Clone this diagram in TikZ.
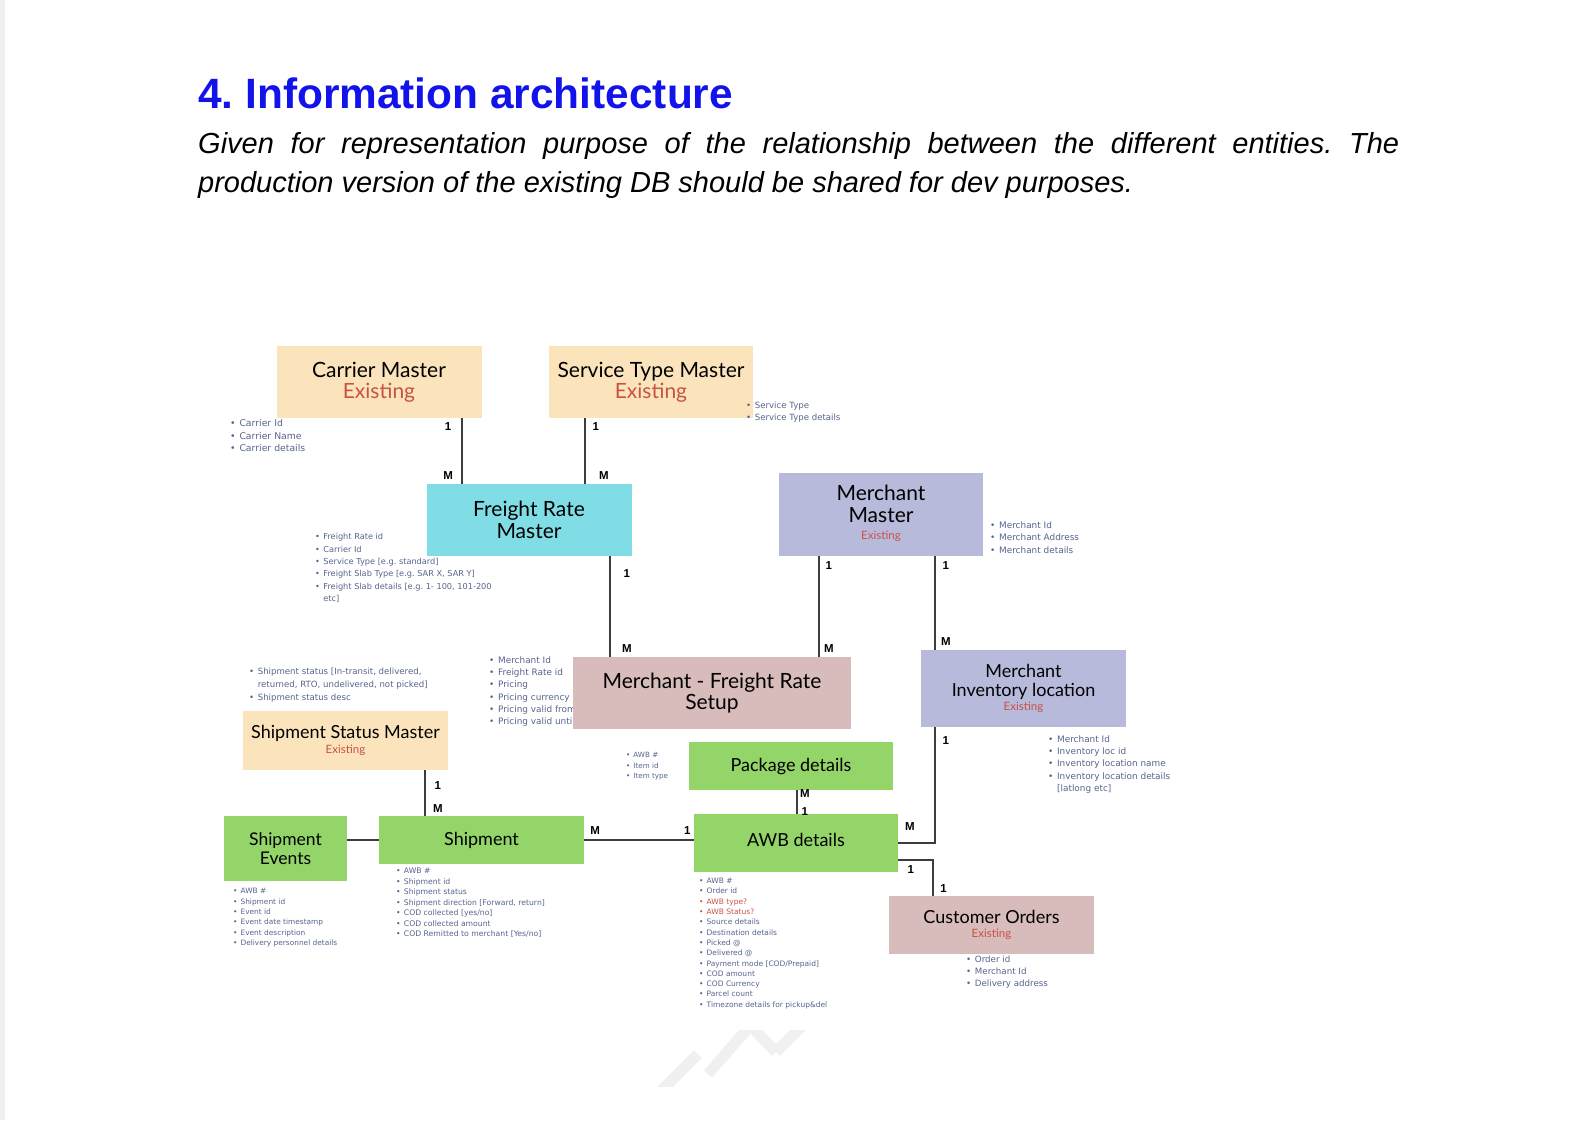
\documentclass[tikz,border=0pt]{standalone}
\usepackage{fontspec}
\setmainfont{Liberation Sans}
\newfontfamily\boxfont{Lato}
\newfontfamily\notefont{DejaVu Sans}
\usetikzlibrary{positioning}
\frenchspacing
\definecolor{TitleBlue}{RGB}{18,18,235}
\definecolor{ExistRed}{RGB}{200,82,70}
\definecolor{NoteGrey}{RGB}{84,100,140}
\definecolor{LineGrey}{RGB}{60,60,60}
\definecolor{SandFill}{RGB}{251,228,188}
\definecolor{AquaFill}{RGB}{129,221,229}
\definecolor{LilacFill}{RGB}{184,186,220}
\definecolor{RoseFill}{RGB}{216,188,188}
\definecolor{LeafFill}{RGB}{147,213,105}
\newcommand{\itm}{\makebox[1em][l]{\textbullet}}
\newcommand{\cnt}{\hspace*{1em}}
\newcommand{\exist}{{\fontsize{11.5}{12}\selectfont\color{ExistRed}Existing}}
\newcommand{\nsize}[2]{\notefont\fontsize{#1}{#2}\selectfont}

\begin{document}
\begin{tikzpicture}[
  x=1pt,y=-1pt,
  entity/.style={minimum width=205pt,minimum height=72pt,inner sep=0pt,align=center,font=\boxfont\fontsize{21}{21.5}\selectfont},
  small entity/.style={entity,font=\boxfont\fontsize{18}{19.3}\selectfont},
  note/.style={anchor=north west,inner sep=0pt,align=left,text=NoteGrey},
  card/.style={font=\bfseries\fontsize{11.5}{12}\selectfont,inner sep=1.5pt},
  link/.style={draw=LineGrey,line width=1.3pt},
  watermark/.style={draw=gray!12,line width=11pt}]
\useasboundingbox (0,0) rectangle (1590,1120);
\fill[gray!12] (0,0) rectangle (5,1120);
\node[anchor=base west,inner sep=0pt,text=TitleBlue,font=\bfseries\fontsize{42.4}{50}\selectfont] (title) at (198,108) {4. Information architecture};
\node[anchor=north west,inner sep=0pt,text width=1201pt,align=justify,font=\itshape\fontsize{29}{39.6}\selectfont] (intro) at (198,132)
  {Given for representation purpose of the relationship between the different entities. The\linebreak production version of the existing DB should be shared for dev purposes.};

\begin{scope}
\clip (640,1030) rectangle (830,1086);
\draw[watermark] (662,1090) -- (698,1054);
\draw[watermark] (708,1074) -- (750,1026);
\draw[watermark] (745,1020) -- (776,1052);
\draw[watermark] (776,1052) -- (812,1016);
\end{scope}

\coordinate (cx1) at (462,0);
\coordinate (cx2) at (585,0);
\coordinate (cx3) at (610,0);
\coordinate (cx4) at (819,0);
\coordinate (cx5) at (935,0);
\coordinate (cx6) at (797,0);
\coordinate (cx7) at (425,0);
\coordinate (cx8) at (933,0);

\node[note,font=\nsize{9.3}{12.6}] (carrierinfo) at (230,419.5)
  {\itm Carrier Id\\\itm Carrier Name\\\itm Carrier details};
\node[note,font=\nsize{8.2}{12.3}] (freightinfo) at (315,533.5)
  {\itm Freight Rate id\\\itm Carrier Id\\\itm Service Type [e.g. standard]\\\itm Freight Slab Type [e.g. SAR X, SAR Y]\\\itm Freight Slab details [e.g. 1- 100, 101-200\\\cnt etc]};
\node[note,font=\nsize{8.9}{12.5}] (merchantinfo) at (990,521.5)
  {\itm Merchant Id\\\itm Merchant Address\\\itm Merchant details};
\node[note,font=\nsize{8.6}{13.2}] (statusinfo) at (249,667.5)
  {\itm Shipment status [In-transit, delivered,\\\cnt returned, RTO, undelivered, not picked]\\\itm Shipment status desc};
\node[note,font=\nsize{8.9}{12.2}] (setupinfo) at (489,656.5)
  {\itm Merchant Id\\\itm Freight Rate id\\\itm Pricing\\\itm Pricing currency\\\itm Pricing valid from\\\itm Pricing valid until};
\node[note,font=\nsize{8.9}{12.2}] (inventoryinfo) at (1048,735.5)
  {\itm Merchant Id\\\itm Inventory loc id\\\itm Inventory location name\\\itm Inventory location details\\\cnt [latlong etc]};
\node[note,font=\nsize{7.2}{10.6}] (packageinfo) at (626,752)
  {\itm AWB \#\\\itm Item id\\\itm Item type};
\node[note,font=\nsize{7.4}{10.4}] (eventsinfo) at (233,888)
  {\itm AWB \#\\\itm Shipment id\\\itm Event id\\\itm Event date timestamp\\\itm Event description\\\itm Delivery personnel details};
\node[note,font=\nsize{7.7}{10.5}] (shipmentinfo) at (396,868)
  {\itm AWB \#\\\itm Shipment id\\\itm Shipment status\\\itm Shipment direction [Forward, return]\\\itm COD collected [yes/no]\\\itm COD collected amount\\\itm COD Remitted to merchant [Yes/no]};
\node[note,font=\nsize{7.5}{10.3}] (awbinfo) at (699,878)
  {\itm AWB \#\\\itm Order id\\{\color{ExistRed}\itm AWB type?}\\{\color{ExistRed}\itm AWB Status?}\\\itm Source details\\\itm Destination details\\\itm Picked @\\\itm Delivered @\\\itm Payment mode [COD/Prepaid]\\\itm COD amount\\\itm COD Currency\\\itm Parcel count\\\itm Timezone details for pickup\&del};
\node[note,font=\nsize{8.7}{12}] (ordersinfo) at (966,956)
  {\itm Order id\\\itm Merchant Id\\\itm Delivery address};

\node[entity,fill=SandFill] (carrier) at (379,382) {Carrier Master\\{\color{ExistRed}Existing}};
\node[entity,fill=SandFill,minimum width=204pt] (service) at (651,382) {Service Type Master\\{\color{ExistRed}Existing}};
\node[entity,fill=AquaFill] (freight) at (529,520) {Freight Rate\\Master};
\node[entity,fill=LilacFill,minimum width=204pt,minimum height=83pt,text depth=4pt] (merchant) at (881,514.5) {Merchant\\Master\\[-4.5pt]\exist};
\node[entity,fill=RoseFill,minimum width=278pt] (setup) at (712,693) {Merchant - Freight Rate\\Setup};
\node[small entity,fill=LilacFill,minimum height=77pt] (inventory) at (1023.5,688.5) {Merchant\\Inventory location\\[-5pt]\exist};
\node[small entity,fill=SandFill,minimum height=59pt] (status) at (345.5,740.5) {Shipment Status Master\\[-5pt]\exist};
\node[small entity,fill=LeafFill,minimum width=204pt,minimum height=48pt] (package) at (791,766) {Package details};
\node[small entity,fill=LeafFill,minimum width=204pt,minimum height=58pt,text depth=6pt] (awb) at (796,843) {AWB details};
\node[small entity,fill=LeafFill,minimum height=48pt] (shipment) at (481.5,840) {Shipment};
\node[small entity,fill=LeafFill,minimum width=123pt,minimum height=65pt,font=\boxfont\fontsize{17.5}{18.5}\selectfont] (events) at (285.5,848.5) {Shipment\\Events};
\node[small entity,fill=RoseFill,minimum height=58pt] (orders) at (991.5,925) {Customer Orders\\[-5pt]\exist};

\node[note,font=\nsize{8.6}{12}] (serviceinfo) at (746,401.5)
  {\itm Service Type\\\itm Service Type details};

\draw[link] (carrier.south -| cx1) -- node[card,pos=0.12,left=8.5pt]{1} node[card,pos=0.87,left=7pt]{M} (freight.north -| cx1);
\draw[link] (service.south -| cx2) -- node[card,pos=0.12,right=5.4pt]{1} node[card,pos=0.87,right=12pt]{M} (freight.north -| cx2);
\draw[link] (freight.south -| cx3) -- node[card,pos=0.17,right=11.5pt]{1} node[card,pos=0.92,right=10pt]{M} (setup.north -| cx3);
\draw[link] (merchant.south -| cx4) -- node[card,pos=0.09,right=4.4pt]{1} node[card,pos=0.92,right=3pt]{M} (setup.north -| cx4);
\draw[link] (merchant.south -| cx5) -- node[card,pos=0.1,right=5.4pt]{1} node[card,pos=0.91,right=4pt]{M} (inventory.north -| cx5);
\draw[link] (inventory.south -| cx5) |- node[card,pos=0.056,right=5.4pt]{1} node[card,pos=0.84,above=10.5pt]{M} (awb.east);
\draw[link] (status.south -| cx7) -- node[card,pos=0.33,right=7.5pt]{1} node[card,pos=0.83,right=6pt]{M} (shipment.north -| cx7);
\draw[link] (shipment.east) -- node[card,pos=0.1,above=3pt]{M} node[card,pos=0.94,above=3pt]{1} (shipment.east -| awb.west);
\draw[link] (events.east |- shipment.west) -- (shipment.west);
\draw[link] (package.south -| cx6) -- node[card,pos=0.12,right=1pt]{M} node[card,pos=0.92,right=2.4pt]{1} (awb.north -| cx6);
\draw[link] ([yshift=-17pt]awb.east) -| node[card,pos=0.18,below=3.4pt]{1} node[card,pos=0.9,right=5.3pt]{1} (orders.north -| cx8);
\end{tikzpicture}
\end{document}
